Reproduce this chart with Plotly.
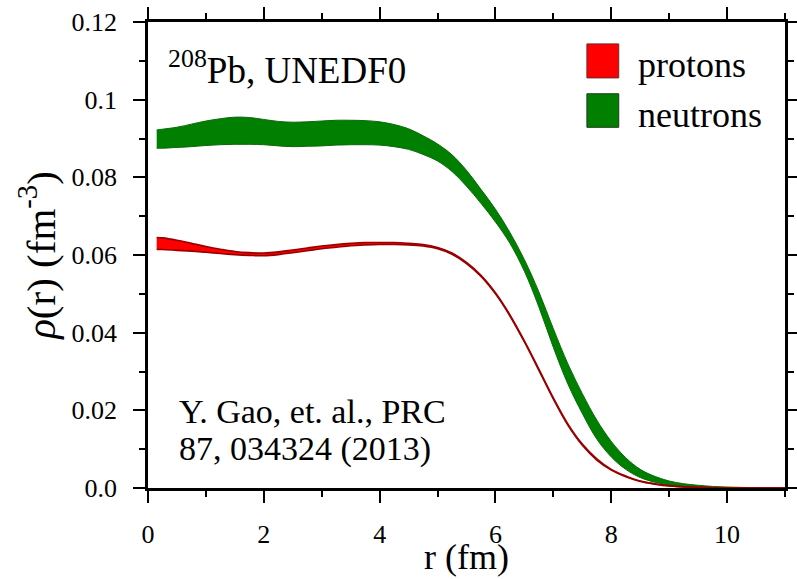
import plotly.graph_objects as go

# radial grid (fm)
r = [0.15, 0.25, 0.5, 0.75, 1.0, 1.25, 1.5, 1.75, 2.0, 2.25, 2.5, 2.75, 3.0,
     3.25, 3.5, 3.75, 4.0, 4.25, 4.5, 4.75, 5.0, 5.25, 5.5, 5.75, 6.0, 6.25,
     6.5, 6.75, 7.0, 7.25, 7.5, 7.75, 8.0, 8.25, 8.5, 8.75, 9.0, 9.25, 9.5,
     9.75, 10.0, 10.25, 10.5, 10.75, 11.0]

# neutron density band (fm^-3)
neutron_lo = [0.0875, 0.0875, 0.0877, 0.0879, 0.0882, 0.0884, 0.0885, 0.0885,
              0.0884, 0.0881, 0.0879, 0.0880, 0.0881, 0.0883, 0.0884, 0.0884,
              0.0883, 0.0879, 0.0872, 0.0859, 0.0842, 0.0815, 0.0777, 0.0733,
              0.0685, 0.0630, 0.0558, 0.0466, 0.0362, 0.0268, 0.0192, 0.0126,
              0.0080, 0.0048, 0.0027, 0.0015, 0.0008, 0.0004, 0.0002, 0.0001,
              0.00006, 0.00004, 0.00002, 0.00001, 0.00001]
neutron_hi = [0.0922, 0.0924, 0.0929, 0.0937, 0.0945, 0.0951, 0.0955, 0.0954,
              0.0949, 0.0944, 0.0942, 0.0943, 0.0945, 0.0947, 0.0947, 0.0946,
              0.0943, 0.0936, 0.0925, 0.0907, 0.0886, 0.0858, 0.0818, 0.0769,
              0.0718, 0.0658, 0.0588, 0.0505, 0.0410, 0.0320, 0.0243, 0.0175,
              0.0120, 0.0078, 0.0048, 0.0030, 0.0018, 0.0011, 0.0007, 0.0004,
              0.00025, 0.00015, 0.0001, 0.00005, 0.00003]

# proton density band (fm^-3)
proton_lo = [0.0614, 0.0614, 0.0612, 0.0610, 0.0607, 0.0604, 0.0601, 0.0599,
             0.0598, 0.0601, 0.0606, 0.0611, 0.0616, 0.0620, 0.0624, 0.0626,
             0.0627, 0.0627, 0.0626, 0.0623, 0.0616, 0.0602, 0.0578, 0.0545,
             0.0500, 0.0443, 0.0376, 0.0303, 0.0229, 0.0162, 0.0110, 0.0072,
             0.0046, 0.0029, 0.0017, 0.0010, 0.0005, 0.0003, 0.00015, 0.00008,
             0.00004, 0.00002, 0.00001, 0.0, 0.0]
proton_hi = [0.0645, 0.0644, 0.0638, 0.0630, 0.0622, 0.0615, 0.0609, 0.0606,
             0.0605, 0.0608, 0.0613, 0.0618, 0.0623, 0.0627, 0.0630, 0.0632,
             0.0632, 0.0632, 0.0630, 0.0627, 0.0619, 0.0605, 0.0581, 0.0548,
             0.0503, 0.0446, 0.0379, 0.0306, 0.0232, 0.0165, 0.0113, 0.0075,
             0.0048, 0.0031, 0.0018, 0.0011, 0.0006, 0.0003, 0.00015, 0.00008,
             0.00004, 0.00002, 0.00001, 0.0, 0.0]

x_ticks = [0, 2, 4, 6, 8, 10]
y_ticks = [0.0, 0.02, 0.04, 0.06, 0.08, 0.10, 0.12]
y_ticktext = ["0.0", "0.02", "0.04", "0.06", "0.08", "0.1", "0.12"]

SERIF = "Liberation Serif, Times New Roman, serif"

fig = go.Figure()


def add_band(lo, hi, fill, edge, width):
    fig.add_trace(go.Scatter(x=r, y=lo, mode="lines", line=dict(color=edge, width=width, shape="spline"),
                             showlegend=False, hoverinfo="skip"))
    fig.add_trace(go.Scatter(x=r, y=hi, mode="lines", line=dict(color=edge, width=width, shape="spline"),
                             fill="tonexty", fillcolor=fill, showlegend=False, hoverinfo="skip"))


add_band(neutron_lo, neutron_hi, "#007f00", "#0a6a0a", 1.0)
add_band(proton_lo, proton_hi, "#ff0000", "#990000", 1.6)

axis_common = dict(
    showline=True, linecolor="black", linewidth=2.5, mirror="allticks",
    ticks="outside", ticklen=12, tickwidth=2, tickcolor="black",
    showgrid=False, zeroline=False,
    tickfont=dict(family=SERIF, size=26, color="black"),
)

fig.update_xaxes(
    range=[0, 11], tickvals=x_ticks, ticklabelstandoff=9,
    minor=dict(dtick=1, ticklen=6, tickwidth=1.5, tickcolor="black", ticks="outside"),
    **axis_common,
)
fig.update_yaxes(
    range=[0, 0.12], tickvals=y_ticks, ticktext=y_ticktext, ticklabelstandoff=11,
    minor=dict(dtick=0.01, ticklen=6, tickwidth=1.5, tickcolor="black", ticks="outside"),
    title=dict(text="<i>ρ</i>(r) (fm<sup>-3</sup>)", font=dict(family=SERIF, size=41, color="black"),
               standoff=4),
    **axis_common,
)

text_font = dict(family=SERIF, color="black")

# x-axis title, resting on the bottom edge of the figure
fig.add_annotation(xref="paper", yref="paper", x=0.5, y=-0.195, text="r (fm)", showarrow=False,
                   xanchor="center", yanchor="bottom", font=dict(size=36, **text_font))

# legend swatches
fig.add_shape(type="rect", xref="paper", yref="paper", x0=0.689, x1=0.739, y0=0.880, y1=0.953,
              fillcolor="#ff0000", line=dict(color="#6a2a2a", width=1))
fig.add_shape(type="rect", xref="paper", yref="paper", x0=0.689, x1=0.739, y0=0.774, y1=0.846,
              fillcolor="#007f00", line=dict(color="#1e3a1e", width=1))

fig.add_annotation(xref="paper", yref="paper", x=0.766, y=0.908, text="protons", showarrow=False,
                   xanchor="left", yanchor="middle", font=dict(size=36, **text_font))
fig.add_annotation(xref="paper", yref="paper", x=0.766, y=0.801, text="neutrons", showarrow=False,
                   xanchor="left", yanchor="middle", font=dict(size=36, **text_font))
fig.add_annotation(xref="paper", yref="paper", x=0.028, y=0.902, text="<sup>208</sup>Pb, UNEDF0",
                   showarrow=False, xanchor="left", yanchor="middle", font=dict(size=37, **text_font))
fig.add_annotation(xref="paper", yref="paper", x=0.045, y=0.165, text="Y. Gao, et. al., PRC",
                   showarrow=False, xanchor="left", yanchor="middle", font=dict(size=34, **text_font))
fig.add_annotation(xref="paper", yref="paper", x=0.045, y=0.083, text="87, 034324 (2013)",
                   showarrow=False, xanchor="left", yanchor="middle", font=dict(size=34, **text_font))

fig.update_layout(
    width=797, height=579,
    margin=dict(l=148, r=12, t=22, b=91, autoexpand=False),
    plot_bgcolor="white", paper_bgcolor="white",
    showlegend=False,
)

fig.write_html("out.html")
